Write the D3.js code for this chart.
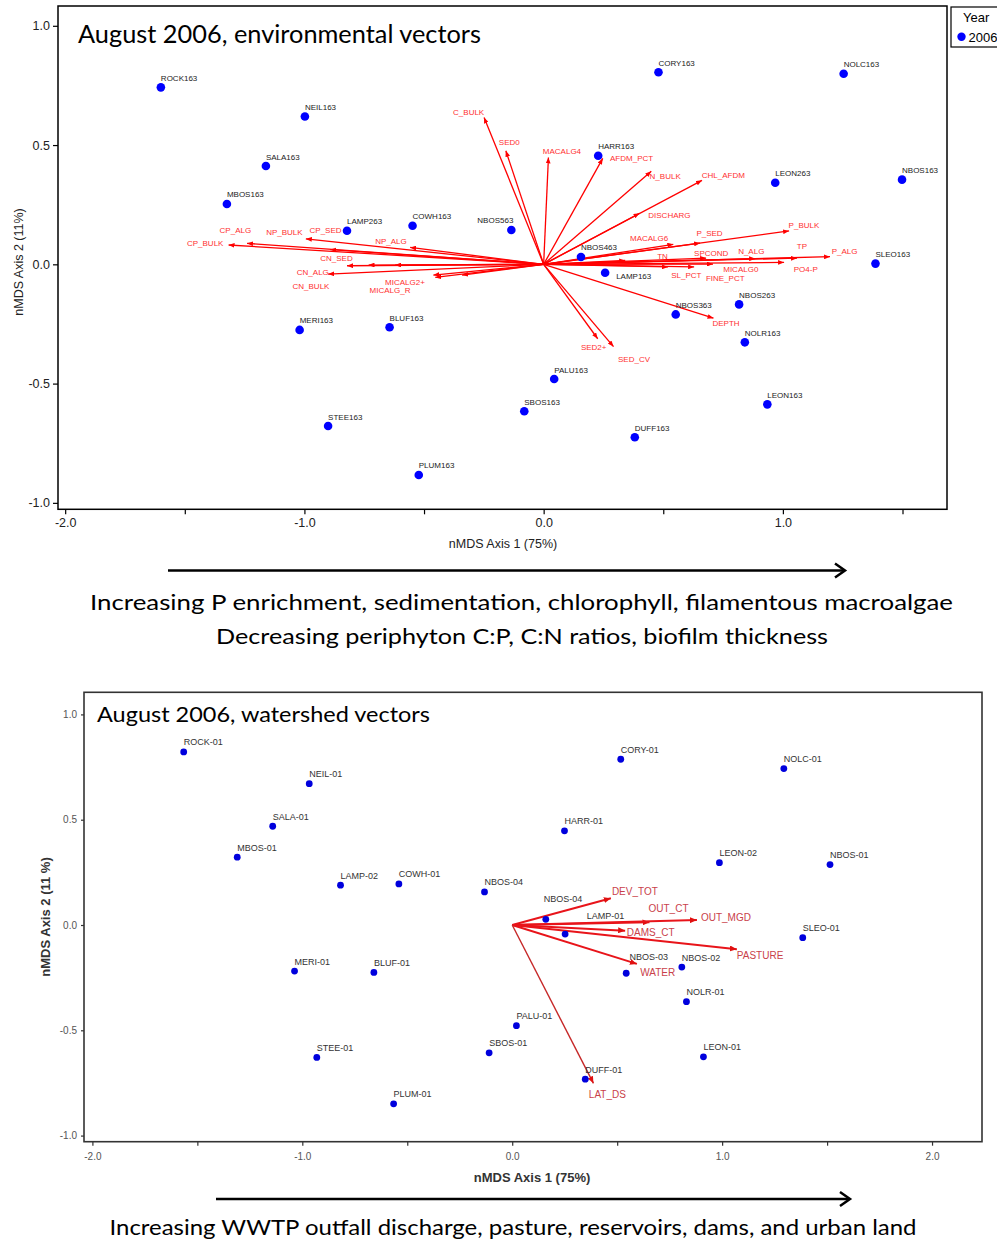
<!DOCTYPE html>
<html><head><meta charset="utf-8">
<script src="https://cdn.jsdelivr.net/npm/d3@7"></script>
<style>body{margin:0;background:#fff;} svg{display:block;}</style>
</head><body>
<svg id="c" width="997" height="1241"></svg>
<script>
// ---------- DATA: top chart (environmental vectors) ----------
const envSiteNames = ["ROCK163","NEIL163","SALA163","MBOS163","LAMP263","COWH163","NBOS563","CORY163","NOLC163","HARR163","LEON263","NBOS163","NBOS463","SLEO163","LAMP163","NBOS263","NBOS363","NOLR163","PALU163","SBOS163","LEON163","DUFF163","MERI163","BLUF163","STEE163","PLUM163"];
const envSiteAxis1 = [-1.600,-0.998,-1.161,-1.324,-0.822,-0.548,-0.135,0.480,1.254,0.228,0.968,1.498,0.156,1.387,0.257,0.817,0.552,0.841,0.044,-0.081,0.935,0.381,-1.020,-0.644,-0.901,-0.522];
const envSiteAxis2 = [0.742,0.620,0.412,0.253,0.141,0.162,0.144,0.805,0.799,0.455,0.342,0.355,0.031,0.003,-0.035,-0.168,-0.210,-0.327,-0.481,-0.616,-0.587,-0.725,-0.275,-0.264,-0.678,-0.883];

const envVecNames = ["C_BULK","SED0","MACALG4","AFDM_PCT","N_BULK","CHL_AFDM","DISCHARG","P_BULK","MACALG6","P_SED","TN","SPCOND","N_ALG","TP","P_ALG","MICALG0","PO4-P","SL_PCT","FINE_PCT","DEPTH","SED2+","SED_CV","CP_BULK","CP_ALG","NP_BULK","CP_SED","NP_ALG","CN_SED","CN_BULK","","CN_ALG","MICALG2+","MICALG_R",""];
const envVecAxis1 = [-0.249,-0.158,0.020,0.247,0.450,0.662,0.401,1.026,0.542,0.654,0.341,0.679,0.884,1.059,1.197,0.708,1.005,0.520,0.629,0.710,0.226,0.292,-1.317,-1.240,-0.994,-0.892,-0.558,-0.822,-0.732,-0.621,-0.901,-0.461,-0.453,-0.341];
const envVecAxis2 = [0.616,0.476,0.448,0.444,0.390,0.352,0.214,0.140,0.084,0.089,0.016,0.026,0.024,0.026,0.032,0.001,0.008,-0.011,-0.011,-0.226,-0.312,-0.345,0.081,0.088,0.107,0.062,0.071,-0.006,-0.003,-0.003,-0.041,-0.045,-0.055,-0.045];

const envXTicks = [-2,-1.5,-1,-0.5,0,0.5,1,1.5];
const envYTicks = [-1,-0.5,0,0.5,1];

// ---------- DATA: bottom chart (watershed vectors) ----------
const wsSiteNames = ["ROCK-01","NEIL-01","SALA-01","MBOS-01","LAMP-02","COWH-01","NBOS-04","CORY-01","NOLC-01","HARR-01","LEON-02","NBOS-01","NBOS-04","LAMP-01","SLEO-01","NBOS-03","NBOS-02","NOLR-01","MERI-01","BLUF-01","PALU-01","SBOS-01","STEE-01","LEON-01","DUFF-01","PLUM-01"];
const wsSiteAxis1 = [-1.565,-0.967,-1.141,-1.310,-0.818,-0.540,-0.132,0.517,1.294,0.249,0.987,1.514,0.160,0.252,1.384,0.543,0.808,0.830,-1.037,-0.659,0.020,-0.110,-0.931,0.911,0.348,-0.565];
const wsSiteAxis2 = [0.822,0.671,0.469,0.322,0.189,0.195,0.157,0.787,0.743,0.447,0.296,0.287,0.027,-0.043,-0.060,-0.229,-0.200,-0.364,-0.219,-0.225,-0.478,-0.607,-0.629,-0.626,-0.732,-0.849];

const wsVecNames = ["DEV_TOT","OUT_CT","OUT_MGD","DAMS_CT","PASTURE","WATER","LAT_DS"];
const wsVecAxis1 = [0.470,0.654,0.880,0.538,1.070,0.594,0.387];
const wsVecAxis2 = [0.127,0.013,0.024,-0.027,-0.115,-0.185,-0.752];

const wsXTicks = [-2,-1.5,-1,-0.5,0,0.5,1,1.5,2];
const wsYTicks = [-1,-0.5,0,0.5,1];

// ---------- label layout (pixel offsets) ----------
const envVecLabelOffset = {"C_BULK":[-31,-2.3],"SED0":[-7,-5.7],"MACALG4":[-5.6,-3.3],"AFDM_PCT":[7.3,2.7],"N_BULK":[-1.7,7.7],"CHL_AFDM":[-0.3,-2.3],"DISCHARG":[8.7,4.7],"P_BULK":[-0.5,-3],"P_SED":[-3.7,-7],"MACALG6":[-43.3,-3.3],"TN":[32,-1.5],"SPCOND":[-12,-2],"N_ALG":[-17,-4.5],"TP":[-0.2,-9],"P_ALG":[1.7,-2.7],"MICALG0":[10.2,8.3],"PO4-P":[9.7,9.8],"SL_PCT":[3.2,11],"FINE_PCT":[11.8,14],"DEPTH":[-1,7.7],"SED2+":[-16.8,11.3],"SED_CV":[4.5,15.3],"CP_BULK":[-41.6,1.3],"CP_ALG":[-27.4,-10.3],"NP_BULK":[-39.7,-3.4],"CP_SED":[-20.7,-16.5],"NP_ALG":[-35,-3],"CN_SED":[-26.7,-4.7],"CN_BULK":[-76,24.3],"CN_ALG":[-31.3,0.7],"MICALG2+":[-48.3,9.7],"MICALG_R":[-65.7,15.5]};
const envSiteLabelShift = {"NBOS563":{dx:2,dy:-6.5,anchor:"end"},"LAMP163":{dx:11,dy:6,anchor:"start"}};
const wsVecLabelOffset = {"DEV_TOT":[1,-2.8],"OUT_CT":[-1,-10],"OUT_MGD":[4,1.5],"DAMS_CT":[1.7,5.2],"PASTURE":[0,9.9],"WATER":[3.3,12.5],"LAT_DS":[-4.6,14.2]};
const wsSiteLabelShift = {12:[-2,-17.8],13:[21.7,-14.8],15:[3.3,-12.8]};

const svg = d3.select("#c");
const defs = svg.append("defs");
function marker(id, color, len, half){
  defs.append("marker").attr("id",id).attr("viewBox",`0 ${-half} ${len} ${2*half}`)
    .attr("refX",len).attr("refY",0).attr("markerWidth",len).attr("markerHeight",2*half)
    .attr("markerUnits","userSpaceOnUse").attr("orient","auto")
    .append("path").attr("d",`M0,${-half}L${len},0L0,${half}Z`).attr("fill",color);
}
marker("ahTop","#ff0000",6,2.4);
marker("ahBot","#e01010",7,3);

const fmt = d => Number.isInteger(d) ? d.toFixed(1) : "";

// =================== TOP CHART ===================
(function(){
  const x = d3.scaleLinear().domain([-2.03,1.686]).range([58,947]);
  const y = d3.scaleLinear().domain([-1.027,1.083]).range([509.3,6]);
  const g = svg.append("g");
  // axes
  const ax = g.append("g").attr("transform","translate(0,509.3)")
    .call(d3.axisBottom(x).tickValues(envXTicks).tickFormat(fmt).tickSize(5).tickPadding(4));
  const ay = g.append("g").attr("transform","translate(58,0)")
    .call(d3.axisLeft(y).tickValues(envYTicks).tickFormat(d=>d.toFixed(1)).tickSize(5).tickPadding(3));
  [ax,ay].forEach(a=>{a.select(".domain").remove();
    a.selectAll("line").attr("stroke","#000").attr("stroke-width",1.2);
    a.selectAll("text").attr("font-family","Liberation Sans, Arial, sans-serif").attr("font-size",12.5).attr("fill","#222");});
  g.append("rect").attr("x",58).attr("y",6).attr("width",889).attr("height",503.3)
    .attr("fill","none").attr("stroke","#000").attr("stroke-width",1.5);
  // axis titles
  g.append("text").attr("x",503).attr("y",548).attr("text-anchor","middle")
    .attr("font-family","Liberation Sans, Arial, sans-serif").attr("font-size",12.5).attr("fill","#222").text("nMDS Axis 1 (75%)");
  g.append("text").attr("transform","translate(22.5,262) rotate(-90)").attr("text-anchor","middle")
    .attr("font-family","Liberation Sans, Arial, sans-serif").attr("font-size",12.5).attr("fill","#222").text("nMDS Axis 2 (11%)");
  // title
  g.append("text").attr("x",78).attr("y",43).attr("font-family","Lato, 'Open Sans', sans-serif").attr("font-size",25)
    .attr("textLength",403).attr("lengthAdjust","spacingAndGlyphs").attr("fill","#000").text("August 2006, environmental vectors");
  // vectors
  const vg = g.append("g");
  envVecNames.forEach((n,i)=>{
    vg.append("line").attr("x1",x(0)).attr("y1",y(0)).attr("x2",x(envVecAxis1[i])).attr("y2",y(envVecAxis2[i]))
      .attr("stroke","#ff0000").attr("stroke-width",1.3).attr("marker-end","url(#ahTop)");
  });
  envVecNames.forEach((n,i)=>{
    if(!n) return;
    const o = envVecLabelOffset[n]||[2,-2];
    vg.append("text").attr("x",x(envVecAxis1[i])+o[0]).attr("y",y(envVecAxis2[i])+o[1])
      .attr("font-family","Liberation Sans, Arial, sans-serif").attr("font-size",8).attr("fill","#ff3030").text(n);
  });
  // sites
  envSiteNames.forEach((n,i)=>{
    const cx=x(envSiteAxis1[i]), cy=y(envSiteAxis2[i]);
    g.append("circle").attr("cx",cx).attr("cy",cy).attr("r",4.3).attr("fill","#0000ff");
    const s = envSiteLabelShift[n]||{dx:0,dy:-6.5,anchor:"start"};
    g.append("text").attr("x",cx+s.dx).attr("y",cy+s.dy).attr("text-anchor",s.anchor)
      .attr("font-family","Liberation Sans, Arial, sans-serif").attr("font-size",8).attr("fill","#222").text(n);
  });
  // legend
  g.append("rect").attr("x",951).attr("y",7).attr("width",60).attr("height",40).attr("fill","#fff").attr("stroke","#000").attr("stroke-width",1.2);
  g.append("text").attr("x",963).attr("y",22).attr("font-family","Liberation Sans, Arial, sans-serif").attr("font-size",13).text("Year");
  g.append("circle").attr("cx",961.5).attr("cy",36.7).attr("r",4.2).attr("fill","#0000ff");
  g.append("text").attr("x",968.5).attr("y",41.5).attr("font-family","Liberation Sans, Arial, sans-serif").attr("font-size",13).text("2006");
  // gradient arrow and captions
  g.append("line").attr("x1",168).attr("y1",570.5).attr("x2",843).attr("y2",570.5).attr("stroke","#000").attr("stroke-width",2.5);
  g.append("path").attr("d","M835,563.5L845,570.5L835,577.5").attr("fill","none").attr("stroke","#000").attr("stroke-width",2.5);
  g.append("text").attr("x",90).attr("y",609.5).attr("font-family","Lato, 'Open Sans', sans-serif").attr("font-size",22)
    .attr("textLength",863).attr("lengthAdjust","spacingAndGlyphs").text("Increasing P enrichment, sedimentation, chlorophyll, filamentous macroalgae");
  g.append("text").attr("x",216).attr("y",643.5).attr("font-family","Lato, 'Open Sans', sans-serif").attr("font-size",22)
    .attr("textLength",612).attr("lengthAdjust","spacingAndGlyphs").text("Decreasing periphyton C:P, C:N ratios, biofilm thickness");
})();

// =================== BOTTOM CHART ===================
(function(){
  const x = d3.scaleLinear().domain([-2.04,2.238]).range([84,982]);
  const y = d3.scaleLinear().domain([-1.029,1.105]).range([1141.7,692.3]);
  const g = svg.append("g");
  const ax = g.append("g").attr("transform","translate(0,1141.7)")
    .call(d3.axisBottom(x).tickValues(wsXTicks).tickFormat(fmt).tickSize(4).tickPadding(7));
  const ay = g.append("g").attr("transform","translate(84,0)")
    .call(d3.axisLeft(y).tickValues(wsYTicks).tickFormat(d=>d.toFixed(1)).tickSize(3).tickPadding(4));
  [ax,ay].forEach(a=>{a.select(".domain").remove();
    a.selectAll("line").attr("stroke","#333").attr("stroke-width",1.2);
    a.selectAll("text").attr("font-family","'Liberation Sans Narrow', 'Arial Narrow', sans-serif").attr("font-size",10).attr("fill","#555");});
  g.append("rect").attr("x",84).attr("y",692.3).attr("width",898).attr("height",449.4)
    .attr("fill","none").attr("stroke","#333").attr("stroke-width",1.6);
  g.append("text").attr("x",532).attr("y",1181.5).attr("text-anchor","middle")
    .attr("font-family","'Liberation Sans Narrow', 'Arial Narrow', sans-serif").attr("font-weight","bold").attr("font-size",13).attr("fill","#333").text("nMDS Axis 1 (75%)");
  g.append("text").attr("transform","translate(49.5,917) rotate(-90)").attr("text-anchor","middle")
    .attr("font-family","'Liberation Sans Narrow', 'Arial Narrow', sans-serif").attr("font-weight","bold").attr("font-size",13).attr("fill","#333").text("nMDS Axis 2 (11 %)");
  g.append("text").attr("x",97).attr("y",721.5).attr("font-family","Lato, 'Open Sans', sans-serif").attr("font-size",22)
    .attr("textLength",333).attr("lengthAdjust","spacingAndGlyphs").attr("fill","#000").text("August 2006, watershed vectors");
  // vectors
  wsVecNames.forEach((n,i)=>{
    g.append("line").attr("x1",x(0)).attr("y1",y(0)).attr("x2",x(wsVecAxis1[i])).attr("y2",y(wsVecAxis2[i]))
      .attr("stroke", n==="LAT_DS" ? "#c62828" : "#e8141a").attr("stroke-width", n==="LAT_DS"?1.4:1.9).attr("marker-end","url(#ahBot)");
  });
  // sites
  wsSiteNames.forEach((n,i)=>{
    const cx=x(wsSiteAxis1[i]), cy=y(wsSiteAxis2[i]);
    g.append("circle").attr("cx",cx).attr("cy",cy).attr("r",3.4).attr("fill","#0000dd");
    const s = wsSiteLabelShift[i]||[0,-6.5];
    g.append("text").attr("x",cx+s[0]).attr("y",cy+s[1])
      .attr("font-family","'Liberation Sans', Arial, sans-serif").attr("font-size",9).attr("fill","#333").text(n);
  });
  wsVecNames.forEach((n,i)=>{
    const o = wsVecLabelOffset[n];
    g.append("text").attr("x",x(wsVecAxis1[i])+o[0]).attr("y",y(wsVecAxis2[i])+o[1])
      .attr("font-family","'Liberation Sans', Arial, sans-serif").attr("font-size",10).attr("fill","#c9414a").text(n);
  });
  // arrow and caption
  g.append("line").attr("x1",216).attr("y1",1199).attr("x2",848).attr("y2",1199).attr("stroke","#000").attr("stroke-width",2.5);
  g.append("path").attr("d","M840,1192L850,1199L840,1206").attr("fill","none").attr("stroke","#000").attr("stroke-width",2.5);
  g.append("text").attr("x",109.5).attr("y",1235).attr("font-family","Lato, 'Open Sans', sans-serif").attr("font-size",22)
    .attr("textLength",807).attr("lengthAdjust","spacingAndGlyphs").text("Increasing WWTP outfall discharge, pasture, reservoirs, dams, and urban land");
})();
</script>
</body></html>
